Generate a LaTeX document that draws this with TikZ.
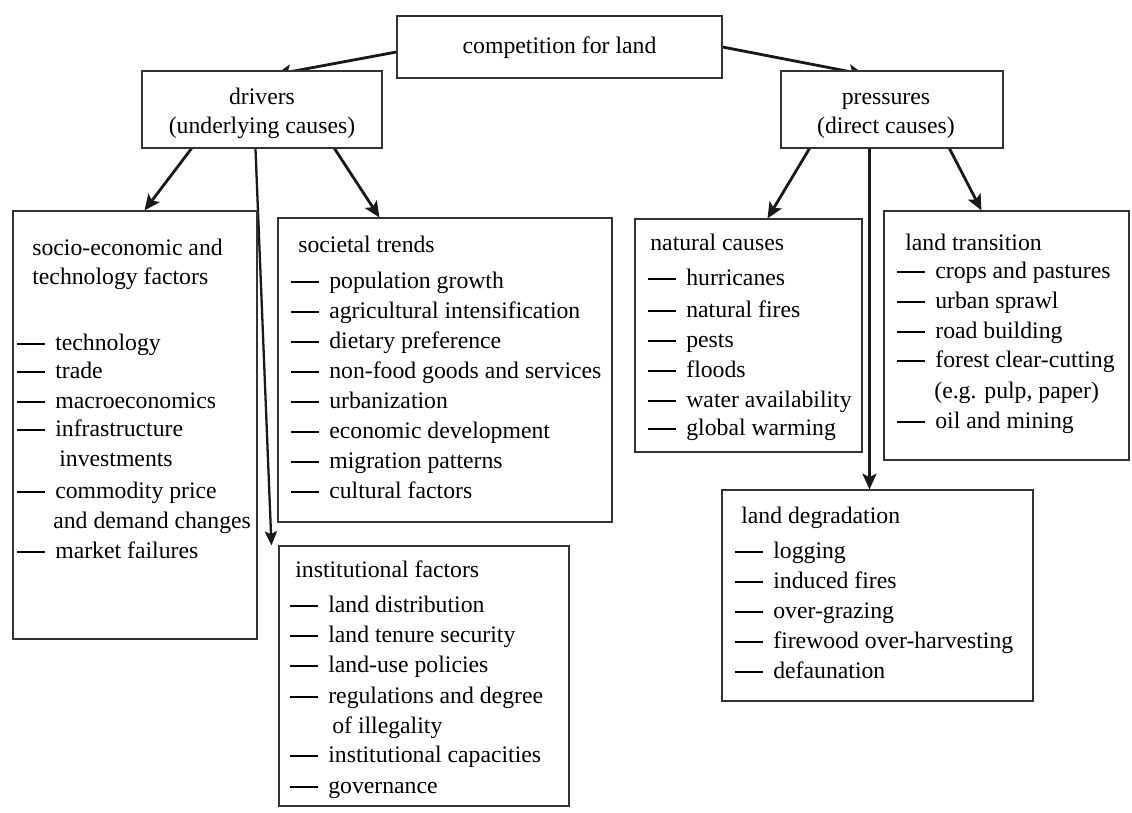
\documentclass[tikz,border=0pt]{standalone}
\usepackage{fontspec}
\setmainfont{Liberation Serif}
\usetikzlibrary{fit,arrows.meta,backgrounds,calc}
\newcommand{\dashitem}{\rule[0.23em]{0.56cm}{0.7pt}\hspace{0.2cm}}
\begin{document}
\begin{tikzpicture}[x=0.02cm,y=-0.02cm,
  box/.style={draw=black!80, line width=0.6pt, fill=white, inner sep=0pt},
  hdtxt/.style={align=center, inner sep=0pt, font=\fontsize{13.5}{16.5}\selectfont},
  txt/.style={anchor=base west, inner sep=0pt, font=\fontsize{13.5}{16.5}\selectfont},
  arr/.style={line width=1.6pt, draw=black!90, -{Stealth[length=9pt,width=8pt,inset=2pt]}},
  arrthin/.style={line width=1.3pt, draw=black!90, -{Stealth[length=8pt,width=7pt,inset=1.5pt]}}
]
\useasboundingbox (0,0) rectangle (1132,812);
% boxes
\node[box, fit={(397,16) (722,78)}] (comp) {};
\node[box, fit={(142,71) (382,148)}] (drivers) {};
\node[box, fit={(781,71) (1003,148)}] (pres) {};
\node[box, fit={(13,211) (257,639)}] (socio) {};
\node[box, fit={(278,218) (612,522)}] (soc) {};
\node[box, fit={(279,546) (569,806)}] (inst) {};
\node[box, fit={(635,219) (862,452)}] (nat) {};
\node[box, fit={(884,211) (1129,460)}] (trans) {};
\node[box, fit={(722,490) (1033,701)}] (degr) {};

% header texts
\node[hdtxt] (compt) at ($(comp.center)+(0,1)$) {competition for land};
\node[hdtxt] (drivt) at ($(drivers.center)+(0,4)$) {drivers\\(underlying causes)};
\node[hdtxt] (prest) at ($(pres.center)+(-6,6)$) {pressures\\(direct causes)};

% connectors (behind boxes)
\begin{scope}[on background layer]
\fill[white] (0,0) rectangle (1132,812);
\draw[arr] ($(comp.west)+(0,5)$) -- ($(drivers.north west)+(134,4)$);
\draw[arr] (comp.east) -- ($(pres.north west)+(84,4)$);
\draw[arr] ($(drivers.south west)+(50,0)$) -- ($(socio.north west)+(132,0)$);
\draw[arrthin] ($(drivers.south west)+(114,0)$) -- ($(inst.north west)+(-7,0)$);
\draw[arr] ($(drivers.south west)+(193,0)$) -- ($(soc.north west)+(102,0)$);
\draw[arr] ($(pres.south west)+(29,0)$) -- ($(nat.north west)+(133,0)$);
\draw[arr] ($(pres.south west)+(89,0)$) -- ($(degr.north west)+(148,0)$);
\draw[arr] ($(pres.south west)+(169,0)$) -- ($(trans.north west)+(98,0)$);
\end{scope}

% socio-economic
\node[txt] (so1) at (32,255) {socio-economic and};
\node[txt] (so2) at (32,284) {technology factors};
\node[txt] (so3) at (17,350) {\dashitem technology};
\node[txt] (so4) at (17,378) {\dashitem trade};
\node[txt] (so5) at (17,408) {\dashitem macroeconomics};
\node[txt] (so6) at (17,436) {\dashitem infrastructure};
\node[txt] (so7) at (59,466) {investments};
\node[txt] (so8) at (17,498) {\dashitem commodity price};
\node[txt] (so9) at (53,528) {and demand changes};
\node[txt] (so10) at (17,558) {\dashitem market failures};

% societal trends
\node[txt] (st0) at (298,252) {societal trends};
\foreach \y/\t [count=\i] in {288/population growth, 318/agricultural intensification,
  348/dietary preference, 378/non-food goods and services, 408/urbanization,
  438/economic development, 468/migration patterns, 498/cultural factors}
  \node[txt, name=st\i] at (291,\y) {\dashitem \t};

% institutional
\node[txt] (in0) at (295,577) {institutional factors};
\node[txt] (in1) at (290,612) {\dashitem land distribution};
\node[txt] (in2) at (290,642) {\dashitem land tenure security};
\node[txt] (in3) at (290,672) {\dashitem land-use policies};
\node[txt] (in4) at (290,703) {\dashitem regulations and degree};
\node[txt] (in5) at (332,733) {of illegality};
\node[txt] (in6) at (290,762) {\dashitem institutional capacities};
\node[txt] (in7) at (290,793) {\dashitem governance};

% natural causes
\node[txt] (na0) at (650,250) {natural causes};
\foreach \y/\t [count=\i] in {285/hurricanes, 317/natural fires, 347/pests,
  377/floods, 407/water availability, 435/global warming}
  \node[txt, name=na\i] at (648,\y) {\dashitem \t};

% land transition
\node[txt] (lt0) at (905,250) {land transition};
\node[txt] (lt1) at (897,278) {\dashitem crops and pastures};
\node[txt] (lt2) at (897,308) {\dashitem urban sprawl};
\node[txt] (lt3) at (897,338) {\dashitem road building};
\node[txt] (lt4) at (897,367) {\dashitem forest clear-cutting};
\node[txt] (lt5) at (934,398) {(e.g. pulp, paper)};
\node[txt] (lt6) at (897,428) {\dashitem oil and mining};

% land degradation
\node[txt] (ld0) at (741,523) {land degradation};
\foreach \y/\t [count=\i] in {558/logging, 588/induced fires, 618/over-grazing,
  648/firewood over-harvesting, 678/defaunation}
  \node[txt, name=ld\i] at (735,\y) {\dashitem \t};
\end{tikzpicture}
\end{document}
